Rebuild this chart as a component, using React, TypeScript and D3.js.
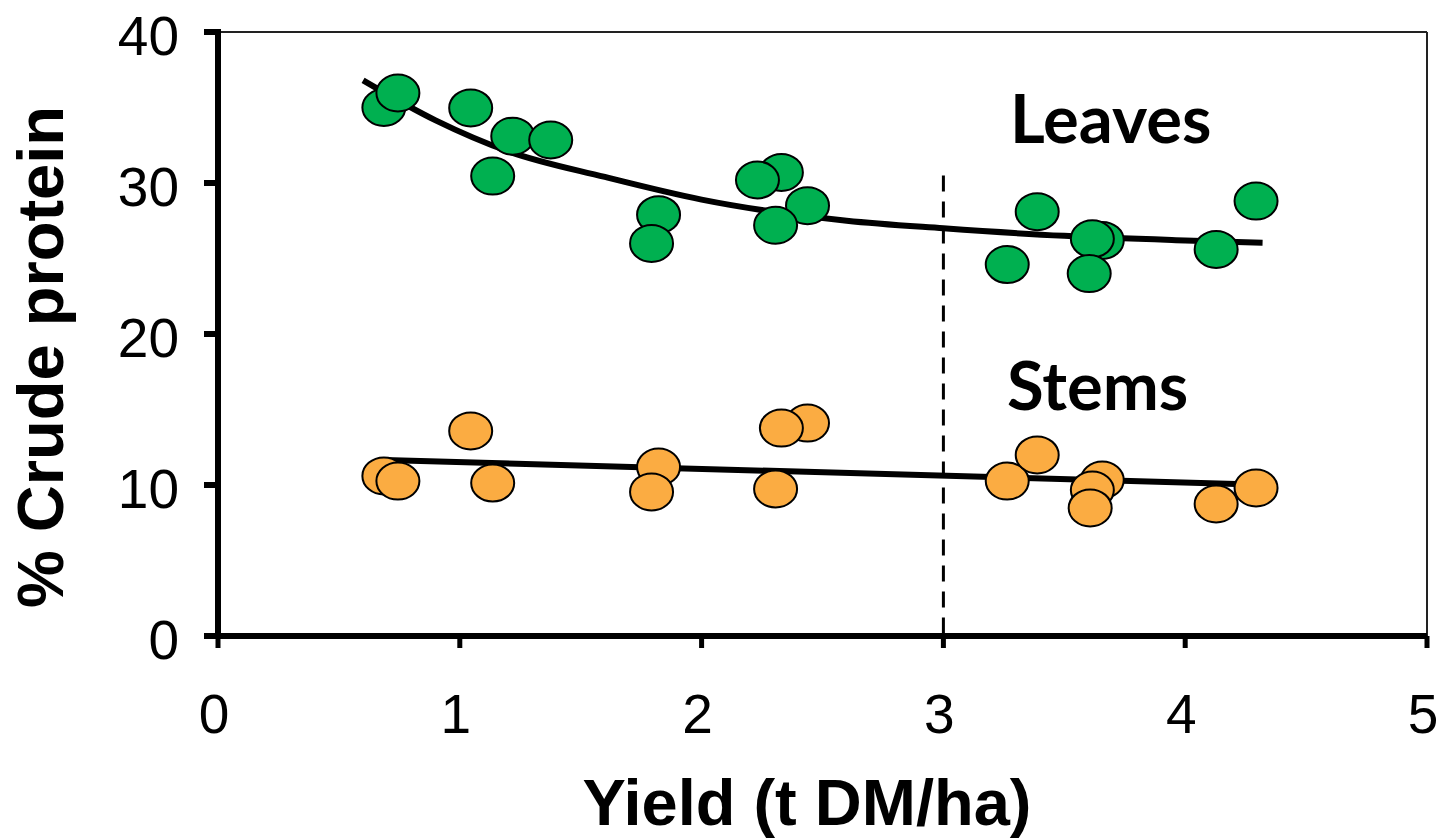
import React from "react";
import * as d3 from "d3";

const xTicks = [0, 1, 2, 3, 4, 5];
const yTicks = [0, 10, 20, 30, 40];

// Leaves (green) samples, in drawing order
const leavesYield = [0.686, 0.744, 1.045, 1.136, 1.219, 1.376, 1.822, 1.793, 2.33, 2.231, 2.438, 2.306, 3.264, 3.388, 3.657, 3.616, 3.603, 4.128, 4.293];
const leavesCP = [35.0, 35.96, 34.97, 30.46, 33.1, 32.85, 27.9, 26.0, 30.7, 30.2, 28.5, 27.2, 24.6, 28.1, 26.2, 26.3, 24.0, 25.6, 28.8];

// Stems (orange) samples, in drawing order
const stemsYield = [0.686, 0.744, 1.045, 1.136, 1.822, 1.793, 2.438, 2.33, 2.306, 3.264, 3.388, 3.657, 3.616, 3.607, 4.128, 4.293];
const stemsCP = [10.6, 10.26, 13.58, 10.13, 11.19, 9.54, 14.1, 13.77, 9.74, 10.26, 11.99, 10.33, 9.67, 8.48, 8.74, 9.8];

// Trend lines
const leavesTrendX = [0.6, 0.9, 1.2, 1.6, 2.0, 2.6, 3.0, 3.5, 4.0, 4.32];
const leavesTrendY = [36.8, 34.15, 32.1, 30.4, 28.9, 27.5, 27.0, 26.5, 26.2, 26.05];
const stemsTrendX = [0.69, 4.32];
const stemsTrendY = [11.66, 10.02];

const dividerX = 3;
const dividerTop = 30.5;

const W = 1441;
const H = 840;

export default function App() {
  const x = d3.scaleLinear().domain([0, 5]).range([218, 1427]);
  const y = d3.scaleLinear().domain([0, 40]).range([636, 32]);
  const line = d3
    .line<[number, number]>()
    .x((d) => x(d[0]))
    .y((d) => y(d[1]))
    .curve(d3.curveMonotoneX);

  const leavesTrend = leavesTrendX.map((v, i) => [v, leavesTrendY[i]] as [number, number]);
  const stemsTrend = stemsTrendX.map((v, i) => [v, stemsTrendY[i]] as [number, number]);

  const tickFont = "'Liberation Sans', Arial, sans-serif";
  const x0 = x(0);
  const x5 = x(5);
  const y0 = y(0);
  const y40 = y(40);

  return (
    <svg
      width={W}
      height={H}
      viewBox={`0 0 ${W} ${H}`}
      style={{ position: "absolute", left: 0, top: 0, background: "#fff" }}
    >
      <rect x={0} y={0} width={W} height={H} fill="#fff" />
      {/* top and right frame */}
      <line x1={x0} x2={x5} y1={y40} y2={y40} stroke="#222" strokeWidth={2} />
      <line x1={x5} x2={x5} y1={y40} y2={y0} stroke="#222" strokeWidth={2} />

      {/* dashed divider */}
      <line
        x1={x(dividerX)}
        x2={x(dividerX)}
        y1={y(dividerTop)}
        y2={y0}
        stroke="#000"
        strokeWidth={3}
        strokeDasharray="16 10"
      />

      {/* trend lines */}
      <path d={line(leavesTrend) || ""} fill="none" stroke="#000" strokeWidth={6} />
      <path d={line(stemsTrend) || ""} fill="none" stroke="#000" strokeWidth={6} />

      {/* markers */}
      {stemsYield.map((v, i) => (
        <ellipse
          key={"s" + i}
          cx={x(v)}
          cy={y(stemsCP[i])}
          rx={21.5}
          ry={18.5}
          fill="#FBAC42"
          stroke="#000"
          strokeWidth={2}
        />
      ))}
      {leavesYield.map((v, i) => (
        <ellipse
          key={"l" + i}
          cx={x(v)}
          cy={y(leavesCP[i])}
          rx={21.5}
          ry={18.5}
          fill="#00B050"
          stroke="#000"
          strokeWidth={2}
        />
      ))}

      {/* axes */}
      <line x1={x0} x2={x0} y1={y40 - 3} y2={y0 + 3} stroke="#000" strokeWidth={6} />
      <line x1={x0 - 3} x2={x5} y1={y0} y2={y0} stroke="#000" strokeWidth={6} />
      {yTicks.map((t) => (
        <g key={"yt" + t}>
          <line x1={x0 - 14} x2={x0} y1={y(t)} y2={y(t)} stroke="#000" strokeWidth={6} />
          <text
            x={x0 - 39}
            y={y(t) + 23}
            textAnchor="end"
            fontFamily={tickFont}
            fontSize={55}
            fill="#000"
          >
            {t}
          </text>
        </g>
      ))}
      {xTicks.map((t) => (
        <g key={"xt" + t}>
          <line x1={x(t)} x2={x(t)} y1={y0} y2={y0 + 12} stroke="#000" strokeWidth={5} />
          <text
            x={x(t) - 4}
            y={733}
            textAnchor="middle"
            fontFamily={tickFont}
            fontSize={55}
            fill="#000"
          >
            {t}
          </text>
        </g>
      ))}

      {/* axis titles */}
      <text
        x={807}
        y={825}
        textAnchor="middle"
        fontFamily={tickFont}
        fontWeight="bold"
        fontSize={65}
        fill="#000"
      >
        Yield (t DM/ha)
      </text>
      <text
        transform={`translate(63, 357) rotate(-90)`}
        textAnchor="middle"
        fontFamily={tickFont}
        fontWeight="bold"
        fontSize={65}
        fill="#000"
      >
        % Crude protein
      </text>

      {/* series labels */}
      <text x={1010} y={143} fontFamily="Lato, 'Open Sans', sans-serif" fontWeight="bold" fontSize={67} fill="#000">
        Leaves
      </text>
      <text x={1007} y={410} fontFamily="Lato, 'Open Sans', sans-serif" fontWeight="bold" fontSize={67} fill="#000">
        Stems
      </text>
    </svg>
  );
}
